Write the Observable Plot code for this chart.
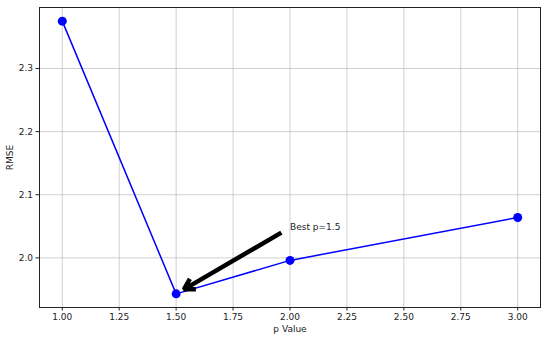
<!DOCTYPE html>
<html><head><meta charset="utf-8">
<script src="https://cdn.jsdelivr.net/npm/d3@7"></script>
<script src="https://cdn.jsdelivr.net/npm/@observablehq/plot@0.6"></script>
<style>body{margin:0;background:#fff}</style>
</head><body><div id="chart"></div>
<script>
const pValues = [1.0, 1.5, 2.0, 3.0];
const rmse = [2.375, 1.943, 1.996, 2.064];
const xTicks = [1.0, 1.25, 1.5, 1.75, 2.0, 2.25, 2.5, 2.75, 3.0];
const yTicks = [2.0, 2.1, 2.2, 2.3];
const annotText = ["Best p=1.5"];
const annotTextPos = [2.0, 2.048];

const data = pValues.map((p, i) => ({p, rmse: rmse[i]}));
const bestIdx = rmse.indexOf(Math.min(...rmse));
const best = data[bestIdx];
const arrowData = [{x1: annotTextPos[0], y1: annotTextPos[1], x2: best.p, y2: best.rmse}];

const xMin = d3.min(pValues), xMax = d3.max(pValues);
const yMin = d3.min(rmse), yMax = d3.max(rmse);
const xPad = (xMax - xMin) * 0.05, yPad = (yMax - yMin) * 0.05;

const chart = Plot.plot({
  width: 550, height: 340,
  marginLeft: 39, marginRight: 10, marginTop: 7, marginBottom: 33,
  style: {fontFamily: "DejaVu Sans", fontSize: "9px", color: "#222", background: "#fff"},
  x: {domain: [xMin - xPad, xMax + xPad]},
  y: {domain: [yMin - yPad, yMax + yPad]},
  marks: [
    Plot.gridX(xTicks, {stroke: "#b0b0b0", strokeOpacity: 0.6, strokeWidth: 1}),
    Plot.gridY(yTicks, {stroke: "#b0b0b0", strokeOpacity: 0.6, strokeWidth: 1}),
    Plot.axisX(xTicks, {tickFormat: d3.format(".2f"), tickSize: 3.5, tickPadding: 3, label: "p Value", labelAnchor: "center", labelArrow: "none", labelOffset: 24}),
    Plot.axisY(yTicks, {tickFormat: d3.format(".1f"), tickSize: 3.5, tickPadding: 3, label: "RMSE", labelAnchor: "center", labelArrow: "none", labelOffset: 33}),
    Plot.frame({stroke: "#222", strokeWidth: 1}),
    Plot.line(data, {x: "p", y: "rmse", stroke: "#0000ff", strokeWidth: 1.5}),
    Plot.dot(data, {x: "p", y: "rmse", fill: "#0000ff", r: 4.5}),
    Plot.arrow(arrowData, {x1: "x1", y1: "y1", x2: "x2", y2: "y2", stroke: "#000", strokeWidth: 4.5, strokeLinejoin: "miter", strokeLinecap: "butt", headLength: 4, headAngle: 60, insetStart: 10, insetEnd: 9}),
    Plot.text(annotText, {x: [annotTextPos[0]], y: [annotTextPos[1]], text: d => d, textAnchor: "start", fill: "#222", fontSize: 9})
  ]
});
document.getElementById("chart").append(chart);
</script>
</body></html>
